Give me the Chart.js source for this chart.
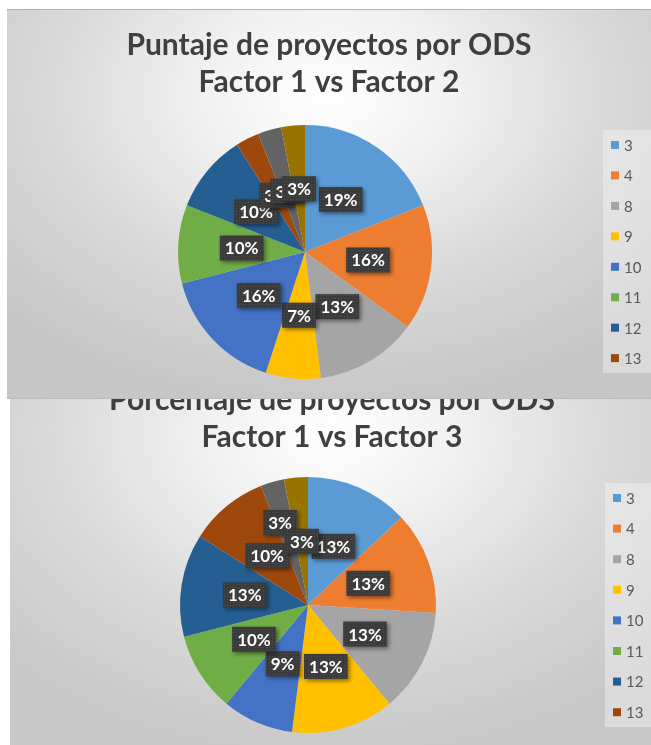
<!DOCTYPE html>
<html>
<head>
<meta charset="utf-8">
<script src="https://cdn.jsdelivr.net/npm/chart.js@4.4.1/dist/chart.umd.min.js"></script>
<style>
  html, body { margin: 0; padding: 0; background: #ffffff; width: 651px; height: 745px; overflow: hidden; }
  .panel { position: absolute; overflow: hidden; }
  #p1 { left: 7px; top: 9px; width: 644px; height: 390px; z-index: 2;
        background: radial-gradient(ellipse 70% 80% at 50% 22%, #ffffff 0%, #f1f1f1 28%, #d9d9d9 62%, #c6c6c6 100%);
        box-shadow: inset 0 1px 0 #b3b3b3, inset 0 -1px 0 #bdbdbd; }
  #p2 { left: 10px; top: 364px; width: 641px; height: 381px; z-index: 1;
        background: radial-gradient(ellipse 70% 85% at 50% 18%, #ffffff 0%, #f1f1f1 28%, #dadada 62%, #c8c8c8 100%); }
  canvas { position: absolute; left: 0; top: 0; }
</style>
</head>
<body>
<div class="panel" id="p1"><canvas id="c1" width="644" height="390"></canvas></div>
<div class="panel" id="p2"><canvas id="c2" width="641" height="381"></canvas></div>
<script>
// ---- data ----
const categories = ['3', '4', '8', '9', '10', '11', '12', '13', '16', '17'];
const factor2Values = [19, 16, 13, 7, 16, 10, 10, 3, 3, 3];
const factor3Values = [13, 13, 13, 13, 9, 10, 13, 10, 3, 3];
const titleFactor2 = ['Puntaje de proyectos por ODS', 'Factor 1 vs Factor 2'];
const titleFactor3 = ['Porcentaje de proyectos por ODS', 'Factor 1 vs Factor 3'];
const legendVisibleCount = 8;

// ---- styles ----
const sliceColors = ['#5B9BD5', '#ED7D31', '#A5A5A5', '#FFC000', '#4472C4', '#70AD47', '#255E91', '#9E480E', '#636363', '#997300'];

function makePattern(ctx) {
  const c = document.createElement('canvas');
  c.width = 3; c.height = 3;
  const g = c.getContext('2d');
  g.fillStyle = '#3b3b3b'; g.fillRect(0, 0, 3, 3);
  g.fillStyle = '#4d4d4d'; g.fillRect(1, 1, 1, 1);
  return ctx.createPattern(c, 'repeat');
}

const decorPlugin = {
  id: 'decor',
  beforeDraw(chart, args, o) {
    const ctx = chart.ctx;
    ctx.save();
    // title
    ctx.fillStyle = '#3f3f3f';
    ctx.font = 'bold ' + o.titleSize + 'px Lato';
    ctx.textAlign = 'center';
    ctx.textBaseline = 'middle';
    o.title.forEach((line, i) => ctx.fillText(line, o.titleX, o.titleY + i * o.titleGap));
    // legend box
    ctx.fillStyle = 'rgba(255,255,255,0.35)';
    ctx.fillRect(o.legX, o.legY, chart.width - o.legX, o.legH);
    const ds = chart.data.datasets[0];
    ctx.font = '15px Lato';
    ctx.textAlign = 'left';
    for (let i = 0; i < o.legCount; i++) {
      const y = o.legItemY + i * o.legGap;
      ctx.fillStyle = ds.backgroundColor[i];
      ctx.fillRect(o.legBoxX, y - 4, 8, 8);
      ctx.fillStyle = '#595959';
      ctx.fillText(chart.data.labels[i], o.legTextX, y + 1);
    }
    ctx.restore();
  },
  afterDatasetsDraw(chart, args, o) {
    const ctx = chart.ctx;
    const meta = chart.getDatasetMeta(0);
    const ds = chart.data.datasets[0];
    const total = ds.data.reduce((a, b) => a + b, 0);
    const pat = makePattern(ctx);
    const shifts = o.labelShift || {};
    ctx.save();
    ctx.font = 'bold 17px Lato';
    ctx.textAlign = 'center';
    ctx.textBaseline = 'middle';
    meta.data.forEach((arc, i) => {
      const p = arc.tooltipPosition();
      const s = shifts[i] || [0, 0];
      const x = p.x + s[0], y = p.y + s[1];
      const txt = Math.round(ds.data[i] / total * 100) + '%';
      const w = ctx.measureText(txt).width + 10;
      const h = 25;
      ctx.shadowColor = 'rgba(0,0,0,0.45)';
      ctx.shadowBlur = 4; ctx.shadowOffsetX = 2; ctx.shadowOffsetY = 2;
      ctx.fillStyle = pat;
      ctx.fillRect(x - w / 2, y - h / 2, w, h);
      ctx.shadowColor = 'transparent';
      ctx.fillStyle = '#ffffff';
      ctx.fillText(txt, x, y + 1);
    });
    ctx.restore();
  }
};

function makePie(id, values, title, padding, decor) {
  return new Chart(document.getElementById(id), {
    type: 'pie',
    data: {
      labels: categories,
      datasets: [{ data: values, backgroundColor: sliceColors, borderWidth: 0 }]
    },
    options: {
      responsive: false,
      animation: false,
      layout: { padding: padding },
      plugins: {
        legend: { display: false },
        title: { display: false },
        tooltip: { enabled: false },
        decor: Object.assign({ title: title, legCount: legendVisibleCount }, decor)
      }
    },
    plugins: [decorPlugin]
  });
}

makePie('c1', factor2Values, titleFactor2,
  { left: 171, right: 219, top: 116, bottom: 20 },
  { titleSize: 30, titleX: 322, titleY: 36, titleGap: 37,
    legX: 596, legY: 121, legH: 243, legBoxX: 604, legTextX: 617, legItemY: 136, legGap: 30.45 });

makePie('c2', factor3Values, titleFactor3,
  { left: 170, right: 215, top: 113, bottom: 12 },
  { titleSize: 30, titleX: 322, titleY: 36, titleGap: 37,
    legX: 595, legY: 119, legH: 244, legBoxX: 603, legTextX: 616, legItemY: 134, legGap: 30.6,
    labelShift: { 8: [-10, -21] } });
</script>
</body>
</html>
